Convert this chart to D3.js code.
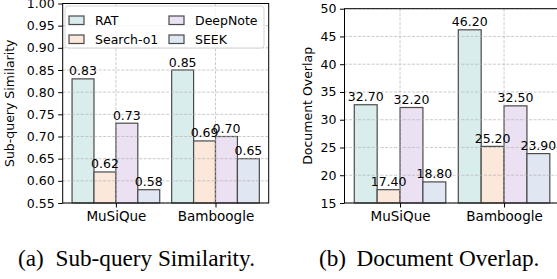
<!DOCTYPE html>
<html>
<head>
<meta charset="utf-8">
<script src="https://cdn.jsdelivr.net/npm/d3@7"></script>
<style>
  body { margin: 0; background: #fff; }
  svg text { font-family: "DejaVu Sans", sans-serif; }
</style>
</head>
<body>
<div id="chart"></div>
<script>
// data
const categories = ["MuSiQue", "Bamboogle"];
const methods = ["RAT", "Search-o1", "DeepNote", "SEEK"];
const methodColors = ["#d9eded", "#fbe8da", "#ebe1f3", "#e0e6f2"];

const ratSim = [0.83, 0.85];
const searchSim = [0.62, 0.69];
const deepSim = [0.73, 0.70];
const seekSim = [0.58, 0.65];

const ratDoc = [32.70, 46.20];
const searchDoc = [17.40, 25.20];
const deepDoc = [32.20, 32.50];
const seekDoc = [18.80, 23.90];

const simTicks = [0.55, 0.60, 0.65, 0.70, 0.75, 0.80, 0.85, 0.90, 0.95, 1.00];
const docTicks = [15, 20, 25, 30, 35, 40, 45, 50];

const W = 557, H = 279;
const svg = d3.select("#chart").append("svg")
    .attr("width", W).attr("height", H);

const barW = 0.22;
const fs = 12.5;

function drawPanel(opt) {
    const g = svg.append("g");
    const x = d3.scaleLinear().domain([-0.534, 1.534]).range([opt.left, opt.right]);
    const y = d3.scaleLinear().domain(opt.yDomain).range([opt.bottom, opt.top]);
    const series = opt.series;

    // bars
    series.forEach(function (vals, i) {
        g.selectAll(null)
            .data(vals)
            .enter()
            .append("rect")
              .attr("x", (d, j) => x(j + (i - 2) * barW))
              .attr("y", d => y(d))
              .attr("width", x(barW) - x(0))
              .attr("height", d => y(opt.yDomain[0]) - y(d))
              .attr("fill", methodColors[i])
              .attr("stroke", "#4a4a4a")
              .attr("stroke-width", 1.2);
    });

    // grid, drawn above the bars like matplotlib does
    const grid = g.append("g")
        .attr("stroke", "#b0b0b0")
        .attr("stroke-width", 0.8)
        .attr("stroke-dasharray", "3,1.5")
        .attr("opacity", 0.8);
    grid.selectAll(null).data(opt.ticks).enter().append("line")
        .attr("x1", opt.left).attr("x2", opt.right)
        .attr("y1", d => y(d)).attr("y2", d => y(d));
    grid.selectAll(null).data(categories).enter().append("line")
        .attr("x1", (d, j) => x(j)).attr("x2", (d, j) => x(j))
        .attr("y1", opt.top).attr("y2", opt.bottom);

    // axes
    const yAxis = g.append("g")
        .attr("transform", "translate(" + opt.left + ",0)")
        .call(d3.axisLeft(y).tickValues(opt.ticks).tickFormat(opt.fmt).tickSizeInner(4.5).tickSizeOuter(0).tickPadding(3.5));
    yAxis.select(".domain").remove();
    yAxis.selectAll("text").attr("font-size", fs).attr("fill", "#000");
    yAxis.selectAll("line").attr("stroke", "#000");

    const xAxis = g.append("g")
        .attr("transform", "translate(0," + opt.bottom + ")")
        .call(d3.axisBottom(x).tickValues([0, 1]).tickFormat((d, j) => categories[j]).tickSizeInner(4.5).tickSizeOuter(0).tickPadding(4));
    xAxis.select(".domain").remove();
    xAxis.selectAll("text").attr("font-size", 13.5).attr("fill", "#000");
    xAxis.selectAll("line").attr("stroke", "#000");

    // frame
    g.append("rect")
        .attr("x", opt.left).attr("y", opt.top)
        .attr("width", opt.right - opt.left).attr("height", opt.bottom - opt.top)
        .attr("fill", "none").attr("stroke", "#000").attr("stroke-width", 1);

    // value labels
    series.forEach(function (vals, i) {
        g.selectAll(null)
            .data(vals)
            .enter()
            .append("text")
              .attr("x", (d, j) => x(j + (i - 1.5) * barW))
              .attr("y", d => y(d) - 3.5)
              .attr("text-anchor", "middle")
              .attr("font-size", fs)
              .text(d => d3.format(".2f")(d));
    });

    // y label
    g.append("text")
        .attr("transform", "translate(" + opt.labelX + "," + (opt.top + opt.bottom) / 2 + ") rotate(-90)")
        .attr("text-anchor", "middle")
        .attr("font-size", 12.5)
        .text(opt.yLabel);

    // caption
    const cap = g.append("text")
        .attr("y", 266)
        .style("font-family", "'Liberation Serif', 'Times New Roman', serif")
        .attr("font-size", 23.2);
    cap.append("tspan").attr("x", opt.capX).text(opt.capTag);
    cap.append("tspan").attr("x", opt.capX + 37.5).text(opt.caption);

    return g;
}

drawPanel({
    left: 62.7, right: 268.7, top: 3.5, bottom: 203,
    yDomain: [0.55, 1.00], ticks: simTicks, fmt: d3.format(".2f"),
    series: [ratSim, searchSim, deepSim, seekSim],
    yLabel: "Sub-query Similarity", labelX: 14,
    capX: 18, capTag: "(a)", caption: "Sub-query Similarity."
});

drawPanel({
    left: 344.5, right: 559.6, top: 8.7, bottom: 203,
    yDomain: [15, 50], ticks: docTicks, fmt: d3.format("d"),
    series: [ratDoc, searchDoc, deepDoc, seekDoc],
    yLabel: "Document Overlap", labelX: 312,
    capX: 319, capTag: "(b)", caption: "Document Overlap."
});

// legend (left panel only)
const legend = svg.append("g");
legend.append("rect")
    .attr("x", 65).attr("y", 6).attr("width", 199).attr("height", 42)
    .attr("rx", 3)
    .attr("fill", "#fff").attr("fill-opacity", 0.8)
    .attr("stroke", "#cccccc").attr("stroke-width", 0.8);
const cols = [69, 169];
methods.forEach(function (m, i) {
    const lx = cols[Math.floor(i / 2)];
    const ly = 16 + (i % 2) * 19;
    legend.append("rect")
        .attr("x", lx).attr("y", ly).attr("width", 15).attr("height", 8.5)
        .attr("fill", methodColors[i]).attr("stroke", "#4a4a4a").attr("stroke-width", 1.2);
    legend.append("text")
        .attr("x", lx + 26).attr("y", ly + 9)
        .attr("font-size", fs)
        .text(m);
});
</script>
</body>
</html>
